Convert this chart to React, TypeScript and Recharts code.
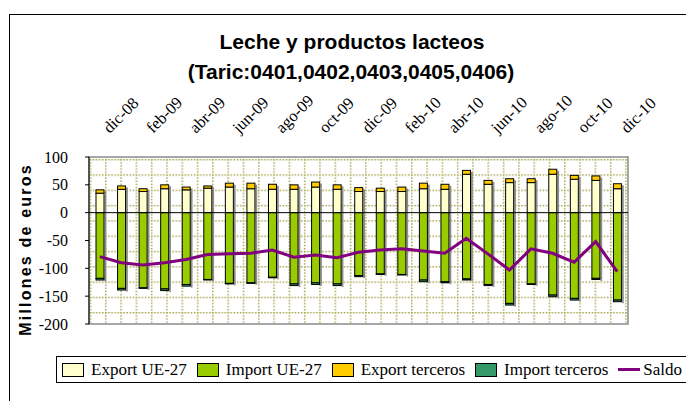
import React from "react";
import {
  ComposedChart,
  Bar,
  Line,
  XAxis,
  YAxis,
  CartesianGrid,
  ReferenceLine,
  ReferenceArea
} from "recharts";

const months = [
  "dic-08", "ene-09", "feb-09", "mar-09", "abr-09", "may-09", "jun-09",
  "jul-09", "ago-09", "sep-09", "oct-09", "nov-09", "dic-09", "ene-10",
  "feb-10", "mar-10", "abr-10", "may-10", "jun-10", "jul-10", "ago-10",
  "sep-10", "oct-10", "nov-10", "dic-10"
];

const exportUE = [35, 42, 38, 43, 41, 44, 46, 43, 42, 42, 46, 42, 38, 38, 38, 43, 42, 69, 51, 54, 54, 69, 60, 58, 43];
const exportTerceros = [6, 6, 5, 7, 5, 4, 7, 10, 9, 8, 9, 8, 7, 6, 8, 10, 9, 7, 7, 7, 7, 9, 7, 8, 9];
const importUE = [-118, -136, -135, -137, -129, -120, -127, -126, -116, -128, -126, -128, -113, -110, -111, -121, -124, -119, -129, -163, -128, -148, -154, -118, -157];
const importTerceros = [-3, -3, -1, -3, -3, -1, -1, -1, -1, -3, -3, -3, -2, -1, -1, -3, -2, -2, -2, -3, -1, -3, -3, -2, -3];
const saldo = [-79, -90, -94, -90, -84, -75, -74, -73, -67, -80, -76, -81, -71, -67, -65, -69, -73, -46, -74, -103, -65, -73, -89, -52, -106];

const yTicks = [-200, -150, -100, -50, 0, 50, 100];

const data = months.map((m, i) => ({
  month: m,
  exportUE: exportUE[i],
  exportTerceros: exportTerceros[i],
  importUE: importUE[i],
  importTerceros: importTerceros[i],
  saldo: saldo[i]
}));

const legendItems = [
  { label: "Export UE-27", color: "#FFFFCC", line: false },
  { label: "Import UE-27", color: "#99CC00", line: false },
  { label: "Export terceros", color: "#FFCC00", line: false },
  { label: "Import terceros", color: "#339966", line: false },
  { label: "Saldo", color: "#800080", line: true }
];

const serif = "'Liberation Serif', 'Times New Roman', serif";
const sans = "'Liberation Sans', Arial, sans-serif";

function MonthTick({ x, y, payload }: any) {
  const ax = x + 10;
  const ay = y - 23;
  return (
    <text
      x={ax}
      y={ay}
      transform={`rotate(-45, ${ax}, ${ay})`}
      textAnchor="start"
      style={{ fontFamily: serif, fontSize: 16.5 }}
      fill="#000"
    >
      {payload.value}
    </text>
  );
}

function ValueTick({ x, y, payload }: any) {
  return (
    <text
      x={x}
      y={y}
      textAnchor="end"
      dominantBaseline="central"
      style={{ fontFamily: serif, fontSize: 16 }}
      fill="#000"
    >
      {payload.value}
    </text>
  );
}

function YTitle({ viewBox }: any) {
  const cx = viewBox.x + 16;
  const cy = viewBox.y + viewBox.height / 2 + 9;
  return (
    <text
      x={cx}
      y={cy}
      transform={`rotate(-90, ${cx}, ${cy})`}
      textAnchor="middle"
      dominantBaseline="central"
      style={{ fontFamily: sans, fontWeight: "bold", fontSize: 16, letterSpacing: 2.2 }}
      fill="#000"
    >
      Millones de euros
    </text>
  );
}

// bar segment with an Excel-like shadow strip on its right side
function ShadowBar(props: any) {
  const { x, y, width, height, fill } = props;
  if (x == null || y == null || !width || !height) return null;
  const top = Math.min(y, y + height);
  const h = Math.abs(height);
  return (
    <g>
      <rect x={x + width + 0.5} y={top + 1.5} width={1.8} height={h} fill="#8c8c8c" />
      <rect x={x} y={top} width={width} height={h} fill={fill} stroke="#000" strokeWidth={1} />
    </g>
  );
}

export default function App() {
  return (
    <div
      style={{
        position: "fixed",
        left: 0,
        top: 0,
        width: 686,
        height: 401,
        overflow: "hidden",
        background: "#fff"
      }}
    >
      <div
        style={{
          position: "absolute",
          left: 9,
          top: 14,
          width: 800,
          height: 500,
          border: "1px solid #000"
        }}
      />
      <svg
        width={686}
        height={100}
        style={{ position: "absolute", left: 0, top: 0 }}
      >
        <text
          x={352}
          y={49}
          textAnchor="middle"
          fontFamily={sans}
          fontWeight="bold"
          fontSize={21}
        >
          Leche y productos lacteos
        </text>
        <text
          x={351}
          y={79}
          textAnchor="middle"
          fontFamily={sans}
          fontWeight="bold"
          fontSize={21}
        >
          (Taric:0401,0402,0403,0405,0406)
        </text>
      </svg>
      <div style={{ position: "absolute", left: 0, top: 0 }}>
        <ComposedChart
          width={686}
          height={401}
          data={data}
          stackOffset="sign"
          margin={{ top: 117, right: 58, bottom: 77, left: 9 }}
        >
          <defs>
            <pattern
              id="dotgrid"
              patternUnits="userSpaceOnUse"
              width={15.3}
              height={15.3}
              x={89.7}
              y={159}
            >
              <rect width={15.3} height={15.3} fill="#fff" />
              <line x1={0} y1={0.75} x2={15.3} y2={0.75} stroke="#a3a34a" strokeWidth={1.5} strokeDasharray="1.5 1.6" />
              <line x1={0.75} y1={0} x2={0.75} y2={15.3} stroke="#a3a34a" strokeWidth={1.5} strokeDasharray="1.5 1.6" />
            </pattern>
          </defs>
          <CartesianGrid
            fill="url(#dotgrid)"
            fillOpacity={1}
            horizontal={false}
            vertical={false}
          />
          <ReferenceArea y1={-200} y2={100} fill="none" stroke="#8c8c8c" strokeWidth={1.5} />
          <XAxis
            dataKey="month"
            orientation="top"
            height={40}
            interval={1}
            axisLine={false}
            tickLine={false}
            tickSize={0}
            tickMargin={0}
            tick={<MonthTick />}
          />
          <YAxis
            width={80}
            domain={[-200, 100]}
            ticks={yTicks}
            allowDataOverflow
            axisLine={{ stroke: "#000" }}
            tickLine={{ stroke: "#000" }}
            tickSize={4}
            tickMargin={17}
            tick={<ValueTick />}
            label={<YTitle />}
          />
          <Bar dataKey="exportUE" name="Export UE-27" stackId="a" barSize={8} fill="#FFFFCC" shape={<ShadowBar />} isAnimationActive={false} />
          <Bar dataKey="exportTerceros" name="Export terceros" stackId="a" barSize={8} fill="#FFCC00" shape={<ShadowBar />} isAnimationActive={false} />
          <Bar dataKey="importUE" name="Import UE-27" stackId="a" barSize={8} fill="#99CC00" shape={<ShadowBar />} isAnimationActive={false} />
          <Bar dataKey="importTerceros" name="Import terceros" stackId="a" barSize={8} fill="#339966" shape={<ShadowBar />} isAnimationActive={false} />
          <ReferenceLine y={0} stroke="#000" strokeWidth={1} />
          <Line
            type="linear"
            dataKey="saldo"
            name="Saldo"
            stroke="#800080"
            strokeWidth={3}
            dot={false}
            isAnimationActive={false}
          />
        </ComposedChart>
      </div>
      <div
        style={{
          position: "absolute",
          left: 56,
          top: 356,
          height: 27,
          width: 700,
          border: "1px solid #000",
          boxSizing: "border-box",
          display: "flex",
          alignItems: "center",
          paddingLeft: 5,
          fontFamily: serif,
          fontSize: 17,
          whiteSpace: "nowrap"
        }}
      >
        {legendItems.map((it) => (
          <div key={it.label} style={{ display: "flex", alignItems: "center", marginRight: 10 }}>
            {it.line ? (
              <div style={{ width: 22, height: 3, background: it.color, marginRight: 3 }} />
            ) : (
              <div
                style={{
                  width: 20,
                  height: 12,
                  background: it.color,
                  border: "1px solid #000",
                  marginRight: 7
                }}
              />
            )}
            <span>{it.label}</span>
          </div>
        ))}
      </div>
    </div>
  );
}
